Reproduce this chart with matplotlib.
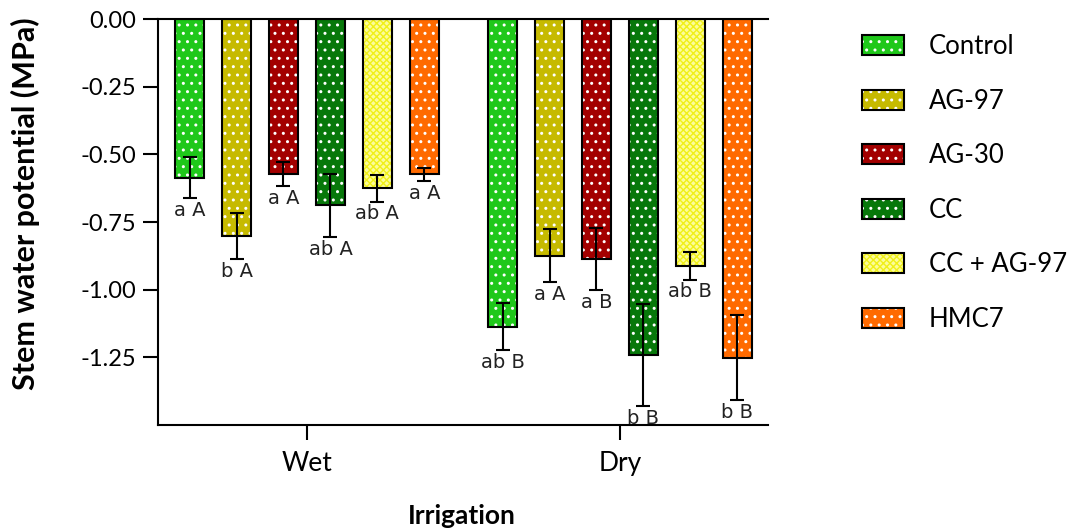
import numpy as np
import matplotlib.pyplot as plt
from matplotlib.patches import Patch

plt.rcParams['font.family'] = ['Lato', 'DejaVu Sans']
plt.rcParams['hatch.linewidth'] = 1.0

# ---- Data ---- #
groups = ['Wet', 'Dry']
treatments = ['Control', 'AG-97', 'AG-30', 'CC', 'CC + AG-97', 'HMC7']

wet_mean = [-0.586, -0.801, -0.574, -0.688, -0.625, -0.574]
wet_err = [0.076, 0.085, 0.044, 0.117, 0.050, 0.025]
dry_mean = [-1.137, -0.874, -0.886, -1.241, -0.911, -1.251]
dry_err = [0.087, 0.098, 0.115, 0.188, 0.052, 0.156]

wet_letters = ['a A', 'b A', 'a A', 'ab A', 'ab A', 'a A']
dry_letters = ['ab B', 'a A', 'a B', 'b B', 'ab B', 'b B']

colors = ['#1fc81a', '#c6ba00', '#a30000', '#07780a', '#fcfc9a', '#ff6a00']
hatch_colors = ['white', 'white', 'white', 'white', '#f0f018', 'white']
hatches = ['..', '..', '..', '..', 'xxxxx', '..']

means = [wet_mean, dry_mean]
errs = [wet_err, dry_err]
letters = [wet_letters, dry_letters]

# ---- Figure ---- #
fig = plt.figure(figsize=(10.74, 5.31), dpi=100)
ax = fig.add_axes([0.1471, 0.1996, 0.5680, 0.7646])

x = np.arange(len(groups))
step = 0.15
width = 0.093

handles = []
for i, name in enumerate(treatments):
    pos = x + (i - 2.5) * step
    vals = [means[g][i] for g in range(len(groups))]
    e = [errs[g][i] for g in range(len(groups))]
    ax.bar(pos, vals, width, color=colors[i], edgecolor=hatch_colors[i],
           hatch=hatches[i], linewidth=0, zorder=2)
    ax.bar(pos, vals, width, facecolor='none', edgecolor='black',
           linewidth=1.5, zorder=3)
    ax.errorbar(pos, vals, yerr=e, fmt='none', ecolor='black',
                elinewidth=1.5, capsize=5, capthick=1.5, zorder=4)
    for g in range(len(groups)):
        ax.annotate(letters[g][i], (pos[g], vals[g] - e[g]),
                    xytext=(0, -2), textcoords='offset points',
                    ha='center', va='top', fontsize=14,
                    family='DejaVu Sans', color='#222222', zorder=5)
    handles.append((Patch(facecolor=colors[i], edgecolor=hatch_colors[i],
                          hatch=hatches[i], linewidth=0),
                    Patch(facecolor='none', edgecolor='black', linewidth=1.5)))

ax.set_ylim(-1.5, 0)
ax.set_xlim(-0.476, 1.473)
ax.set_yticks([0, -0.25, -0.5, -0.75, -1.0, -1.25])
ax.set_yticklabels(['0.00', '-0.25', '-0.50', '-0.75', '-1.00', '-1.25'])
ax.set_xticks(x)
ax.set_xticklabels(groups)

ax.spines['right'].set_visible(False)
for s in ['left', 'bottom', 'top']:
    ax.spines[s].set_linewidth(1.5)
ax.tick_params(axis='y', length=11, width=1.5, labelsize=17, pad=5)
ax.tick_params(axis='x', length=11, width=1.5, labelsize=19, pad=8)

ax.set_ylabel('Stem water potential (MPa)', fontsize=22, fontweight='bold')
ax.yaxis.set_label_coords(-0.193, 0.545)
fig.text(462 / 1074, 1 - 524 / 531, 'Irrigation', fontsize=19,
         fontweight='bold', ha='center', va='baseline')

fig.legend(handles, treatments, loc='upper left',
           bbox_to_anchor=(862 / 1074, 1 - 34 / 531), frameon=False,
           fontsize=18.5, handlelength=1.63, handleheight=0.82,
           handletextpad=0.97, labelspacing=1.15, borderpad=0,
           borderaxespad=0)

plt.savefig('out.png', dpi=100)
plt.close()
